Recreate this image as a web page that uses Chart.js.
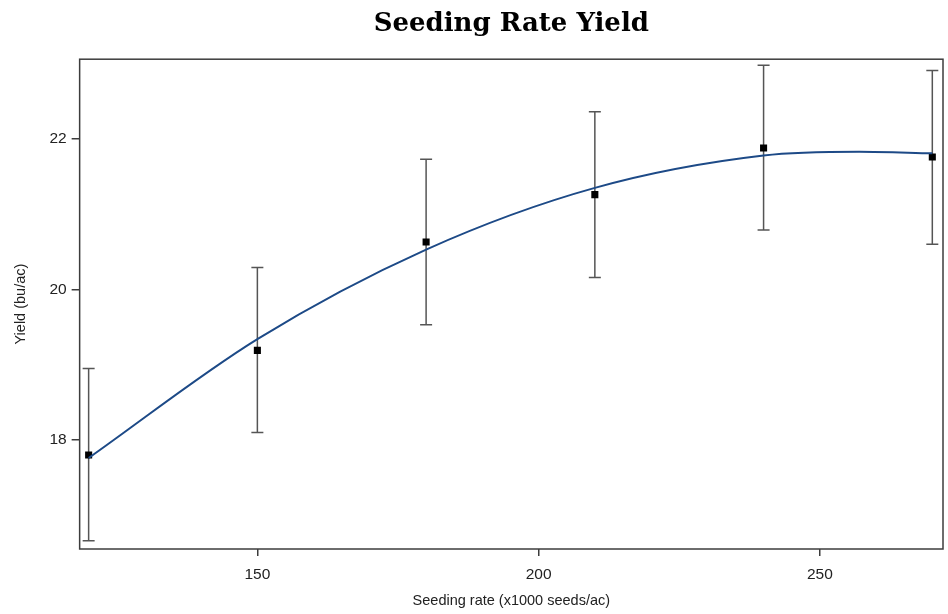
<!DOCTYPE html>
<html>
<head>
<meta charset="utf-8">
<title>Seeding Rate Yield</title>
<script src="https://cdn.jsdelivr.net/npm/chart.js@4.4.1/dist/chart.umd.min.js"></script>
<style>
    html, body { margin: 0; padding: 0; background: #fff; }
    #wrap { width: 948px; height: 614px; position: relative; }
</style>
</head>
<body>
<div id="wrap"><canvas id="graph"></canvas></div>
<script>
const curveBlue =   'rgb(29, 74, 135)'
const frameGrey =   'rgb(60, 60, 60)'
const barGrey =     'rgb(85, 85, 85)'
const black =       'rgb(0, 0, 0)'

// measured means with error bar ends (x1000 seeds/ac -> bu/ac)
const rates =       [120, 150, 180, 210, 240, 270]
const yieldMeans =  [17.80, 19.19, 20.63, 21.26, 21.88, 21.76]
const yieldLower =  [16.66, 18.10, 19.53, 20.16, 20.79, 20.60]
const yieldUpper =  [18.95, 20.29, 21.73, 22.36, 22.98, 22.91]

// fitted response curve
const fitRates =    [120, 150, 180, 210, 240, 257, 270]
const fitYield =    [17.76, 19.34, 20.53, 21.35, 21.78, 21.83, 21.81]

const xTicks = [150, 200, 250]
const yTicks = [18, 20, 22]

const errorBars = {
    id: 'errorBars',
    beforeDatasetsDraw(chart) {
        const {ctx, scales: {x, y}} = chart
        ctx.save()
        ctx.strokeStyle = barGrey
        ctx.lineWidth = 1.5
        for (let i = 0; i < rates.length; i++) {
            const px = x.getPixelForValue(rates[i])
            const top = y.getPixelForValue(yieldUpper[i])
            const bot = y.getPixelForValue(yieldLower[i])
            ctx.beginPath()
            ctx.moveTo(px, top); ctx.lineTo(px, bot)
            ctx.moveTo(px - 6, top); ctx.lineTo(px + 6, top)
            ctx.moveTo(px - 6, bot); ctx.lineTo(px + 6, bot)
            ctx.stroke()
        }
        ctx.restore()
    },
    afterDraw(chart) {
        //box round the plot area
        const {ctx, chartArea: a} = chart
        ctx.save()
        ctx.strokeStyle = frameGrey
        ctx.lineWidth = 1.5
        ctx.strokeRect(a.left, a.top, a.right - a.left, a.bottom - a.top)
        ctx.restore()
    }
}

const ctx = document.getElementById('graph')
const myChart = new Chart(ctx, {
    type: 'scatter',
    data: {
        datasets: [
            {//fitted curve
                label: 'Fit',
                data: fitRates.map((r, i) => ({x: r, y: fitYield[i]})),
                showLine: true,
                borderColor: curveBlue,
                borderWidth: 2,
                pointRadius: 0,
                cubicInterpolationMode: 'monotone'
            },
            {//means
                label: 'Mean',
                data: rates.map((r, i) => ({x: r, y: yieldMeans[i]})),
                pointStyle: 'rect',
                pointRadius: 5,
                backgroundColor: black,
                borderColor: black,
                borderWidth: 0
            }
        ]
    },
    options: {
        animation: false,
        responsive: true,
        maintainAspectRatio: false,
        layout: { padding: { left: 0, right: 3, top: 0, bottom: 0 } },
        plugins: {
            legend: { display: false },
            tooltip: { enabled: false },
            title: {
                display: true,
                text: 'Seeding Rate Yield',
                fullSize: false,
                color: black,
                font: { family: '"DejaVu Serif", serif', size: 26, weight: 'bold', lineHeight: 1.2 },
                padding: { top: 9, bottom: 19 }
            }
        },
        scales: {
            x: {
                type: 'linear',
                min: 118.4,
                max: 271.9,
                afterBuildTicks: axis => { axis.ticks = xTicks.map(v => ({value: v})) },
                ticks: {
                    includeBounds: false,
                    color: '#222',
                    padding: 9,
                    font: { family: '"Liberation Sans", Arial, sans-serif', size: 15.5 }
                },
                grid: { drawOnChartArea: false, drawTicks: true, tickLength: 7, color: frameGrey, lineWidth: 1.5 },
                border: { display: false },
                title: {
                    display: true,
                    text: 'Seeding rate (x1000 seeds/ac)',
                    color: '#222',
                    font: { family: '"Liberation Sans", Arial, sans-serif', size: 14.5 },
                    padding: { top: 0, bottom: 4 }
                }
            },
            y: {
                type: 'linear',
                min: 16.55,
                max: 23.06,
                afterBuildTicks: axis => { axis.ticks = yTicks.map(v => ({value: v})) },
                ticks: {
                    includeBounds: false,
                    color: '#222',
                    padding: 5,
                    font: { family: '"Liberation Sans", Arial, sans-serif', size: 15.5 }
                },
                grid: { drawOnChartArea: false, drawTicks: true, tickLength: 8, color: frameGrey, lineWidth: 1.5 },
                border: { display: false },
                title: {
                    display: true,
                    text: 'Yield (bu/ac)',
                    color: '#222',
                    font: { family: '"Liberation Sans", Arial, sans-serif', size: 14.5 },
                    padding: { top: 12, bottom: 15 }
                }
            }
        }
    },
    plugins: [errorBars]
})
</script>
</body>
</html>
